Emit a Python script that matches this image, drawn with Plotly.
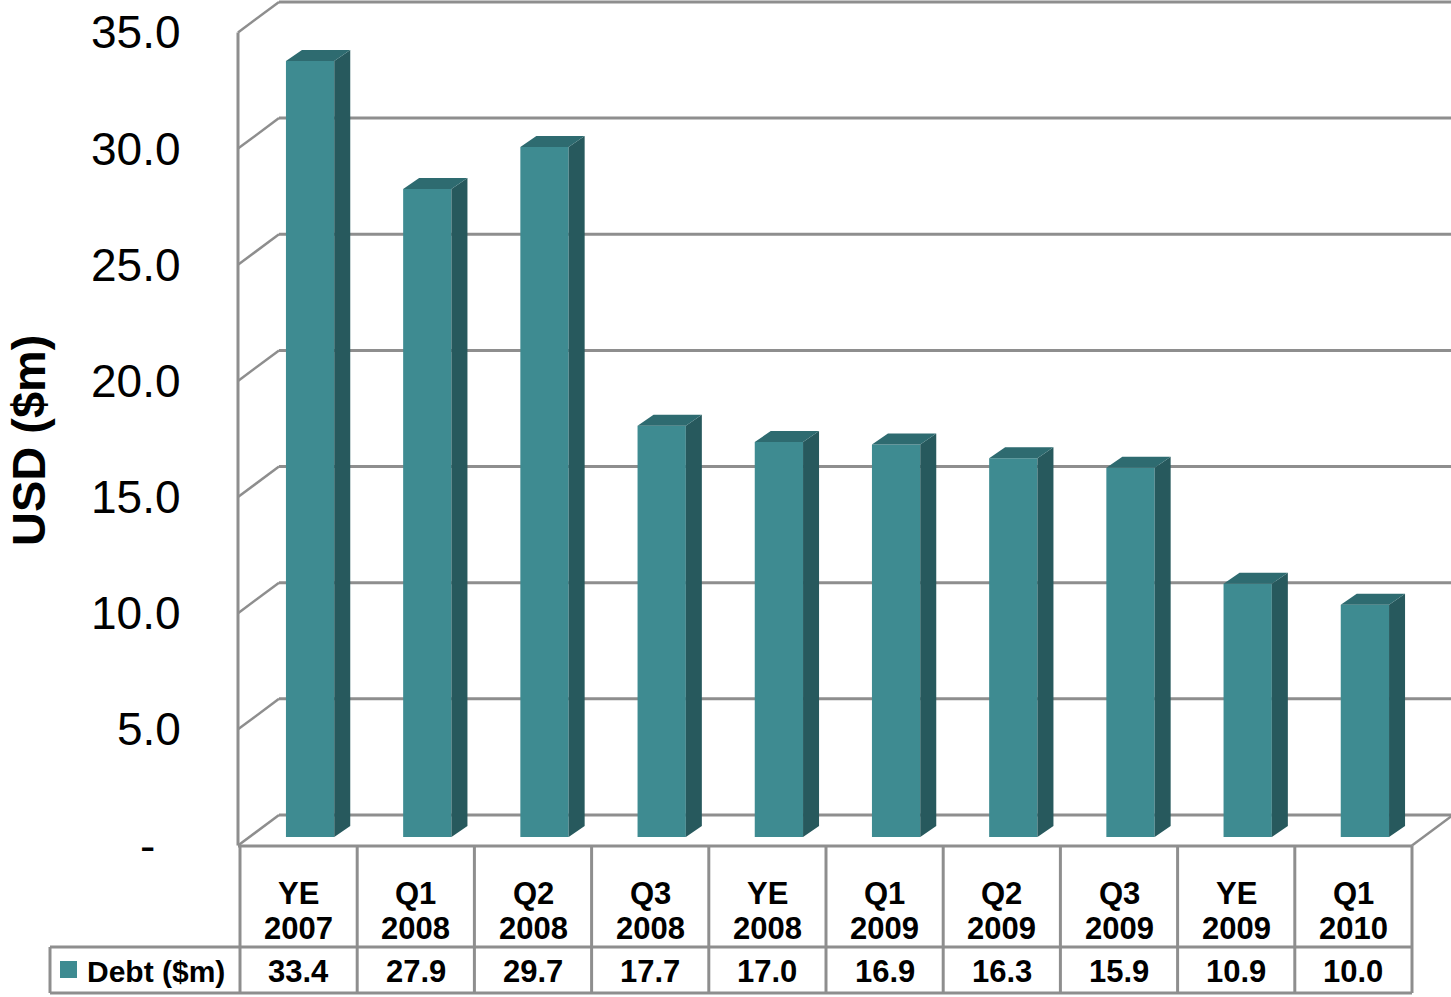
import plotly.graph_objects as go

# ---------------- data ----------------
cat_line1 = ["YE", "Q1", "Q2", "Q3", "YE", "Q1", "Q2", "Q3", "YE", "Q1"]
cat_line2 = ["2007", "2008", "2008", "2008", "2008", "2009", "2009", "2009", "2009", "2010"]
debt = [33.4, 27.9, 29.7, 17.7, 17.0, 16.9, 16.3, 15.9, 10.9, 10.0]
series_name = "Debt ($m)"
y_ticks = [0, 5, 10, 15, 20, 25, 30, 35]
y_tick_text = ["-", "5.0", "10.0", "15.0", "20.0", "25.0", "30.0", "35.0"]
y_title = "USD ($m)"

# ---------------- colours ----------------
FRONT = "#3E8B91"
SIDE = "#27595D"
TOP = "#2E6B70"
GRID = "#8E8E8E"

# ---------------- geometry (pixel helpers) ----------------
W, H = 1451, 997
COL_PX = 117.2          # table column width
TABLE_LEFT = 240        # left edge of first column
BASE_PX = 837           # bar baseline (pixel row)
UNIT_PX = 23.23         # pixels per $m


def xu(px):
    return (px - TABLE_LEFT) / COL_PX - 0.5


def yu(py):
    return (BASE_PX - py) / UNIT_PX


bar_off = 11.5 / COL_PX
bar_w = 48.3 / COL_PX
bar_dx = 16 / COL_PX
bar_dy = 11 / UNIT_PX
front_x = xu(238)
back_x = xu(279)
front_y0 = yu(845.5)
back_y0 = yu(815)
right_front = xu(1412)
right_back = xu(1453)

n = len(debt)
xc = [i + bar_off for i in range(n)]

fig = go.Figure()

# front faces
fig.add_trace(go.Bar(x=xc, y=debt, width=bar_w, marker=dict(color=FRONT, line=dict(width=0)),
                     name=series_name, hoverinfo="skip"))

# side faces and top faces
sx, sy, tx, ty = [], [], [], []
for x, v in zip(xc, debt):
    xl, xr = x - bar_w / 2, x + bar_w / 2
    sx += [xr, xr + bar_dx, xr + bar_dx, xr, xr, None]
    sy += [0, bar_dy, v + bar_dy, v, 0, None]
    tx += [xl, xr, xr + bar_dx, xl + bar_dx, xl, None]
    ty += [v, v, v + bar_dy, v + bar_dy, v, None]
fig.add_trace(go.Scatter(x=sx, y=sy, fill="toself", fillcolor=SIDE, mode="lines",
                         line=dict(width=0, color=SIDE), hoverinfo="skip"))
fig.add_trace(go.Scatter(x=tx, y=ty, fill="toself", fillcolor=TOP, mode="lines",
                         line=dict(width=0, color=TOP), hoverinfo="skip"))

shapes = []
# back-wall gridlines + side-wall diagonals
for t in y_ticks:
    shapes.append(dict(type="line", xref="x", yref="y", x0=back_x, x1=xu(W + 5),
                       y0=t + back_y0, y1=t + back_y0, line=dict(color=GRID, width=3), layer="below"))
    shapes.append(dict(type="line", xref="x", yref="y", x0=front_x, x1=back_x,
                       y0=t + front_y0, y1=t + back_y0, line=dict(color=GRID, width=2.5), layer="below"))
# front vertical axis
shapes.append(dict(type="line", xref="x", yref="y", x0=front_x, x1=front_x,
                   y0=front_y0, y1=y_ticks[-1] + front_y0, line=dict(color=GRID, width=3), layer="below"))
# right floor diagonal
shapes.append(dict(type="line", xref="x", yref="y", x0=right_front, x1=right_back,
                   y0=front_y0, y1=back_y0, line=dict(color=GRID, width=2.5), layer="below"))

# data table grid
row_top, row_mid, row_bot = yu(846), yu(947), yu(993)
label_left = xu(50)
for k in range(n + 1):
    xk = k - 0.5
    shapes.append(dict(type="line", xref="x", yref="y", x0=xk, x1=xk, y0=row_top, y1=row_bot,
                       line=dict(color=GRID, width=3)))
shapes.append(dict(type="line", xref="x", yref="y", x0=front_x, x1=n - 0.5, y0=row_top, y1=row_top,
                   line=dict(color=GRID, width=3)))
for yy in (row_mid, row_bot):
    shapes.append(dict(type="line", xref="x", yref="y", x0=label_left, x1=n - 0.5, y0=yy, y1=yy,
                       line=dict(color=GRID, width=3)))
shapes.append(dict(type="line", xref="x", yref="y", x0=label_left, x1=label_left, y0=row_mid, y1=row_bot,
                   line=dict(color=GRID, width=3)))
# legend key
shapes.append(dict(type="rect", xref="x", yref="y", x0=xu(60), x1=xu(77), y0=yu(978), y1=yu(961),
                   fillcolor=FRONT, line=dict(width=0)))

annotations = []
BOLD = "Liberation Sans"
for i in range(n):
    annotations.append(dict(x=i, y=yu(893), xref="x", yref="y", text=f"<b>{cat_line1[i]}</b>",
                            showarrow=False, font=dict(family=BOLD, size=31, color="black"),
                            xanchor="center", yanchor="middle"))
    annotations.append(dict(x=i, y=yu(928), xref="x", yref="y", text=f"<b>{cat_line2[i]}</b>",
                            showarrow=False, font=dict(family=BOLD, size=31, color="black"),
                            xanchor="center", yanchor="middle"))
    annotations.append(dict(x=i, y=yu(971), xref="x", yref="y", text=f"<b>{debt[i]:.1f}</b>",
                            showarrow=False, font=dict(family=BOLD, size=31, color="black"),
                            xanchor="center", yanchor="middle"))
annotations.append(dict(x=xu(85), y=yu(971), xref="x", yref="y", text=f"<b>{series_name}</b>",
                        showarrow=False, font=dict(family=BOLD, size=30, color="black"),
                        xanchor="left", yanchor="middle"))

# y tick labels (front plane)
for t, lab in zip(y_ticks, y_tick_text):
    xr = xu(157) if lab == "-" else xu(183)
    annotations.append(dict(x=xr, y=t + front_y0, xref="x", yref="y", text=lab, showarrow=False,
                            font=dict(family=BOLD, size=46, color="black"),
                            xanchor="right", yanchor="middle"))
# y title
annotations.append(dict(x=xu(28), y=yu(440), xref="x", yref="y", text=f"<b>{y_title}</b>",
                        showarrow=False, textangle=-90, font=dict(family=BOLD, size=47, color="black"),
                        xanchor="center", yanchor="middle"))

fig.update_layout(
    width=W, height=H,
    margin=dict(l=0, r=0, t=0, b=0),
    paper_bgcolor="white", plot_bgcolor="white",
    showlegend=False, hovermode=False,
    xaxis=dict(range=[xu(0), xu(W)], domain=[0, 1], visible=False, fixedrange=True),
    yaxis=dict(range=[yu(H), yu(0)], domain=[0, 1], visible=False, fixedrange=True),
    shapes=shapes, annotations=annotations,
)

fig.write_html("out.html", config={"displayModeBar": False})
